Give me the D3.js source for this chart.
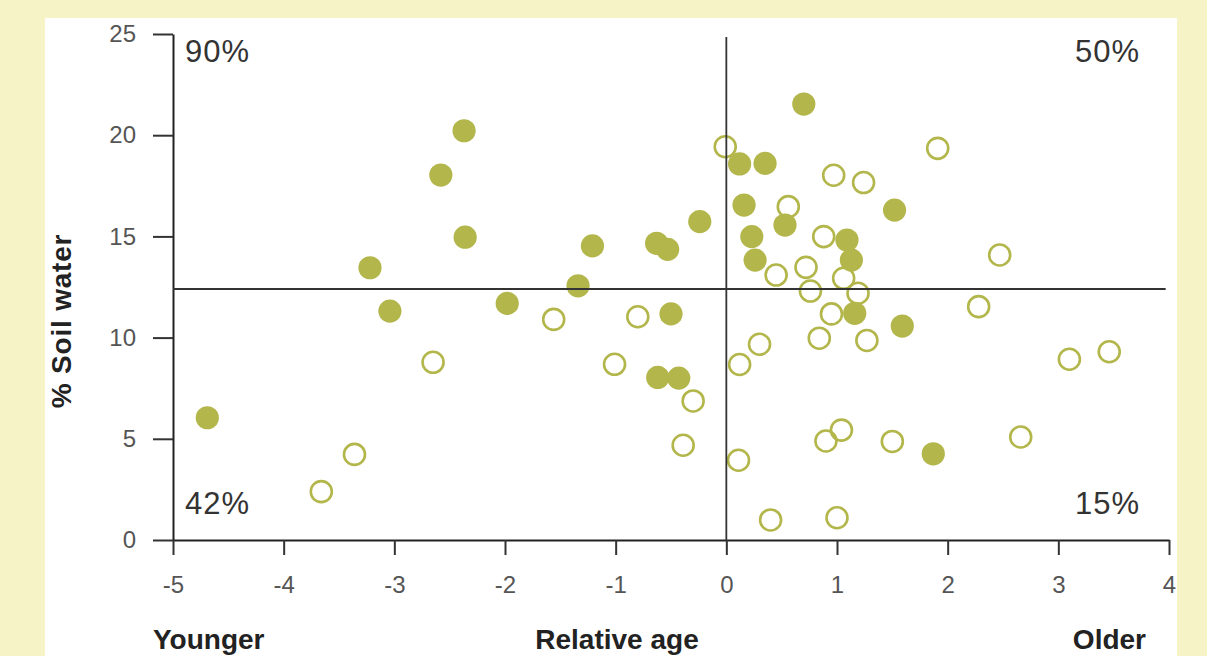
<!DOCTYPE html>
<html>
<head>
<meta charset="utf-8">
<script src="https://cdn.jsdelivr.net/npm/d3@7"></script>
<style>
  html, body { margin: 0; padding: 0; background: #f6f4c6; }
  svg { display: block; }
</style>
</head>
<body>
<svg id="chart" width="1207" height="656"></svg>
<script>
// ---- data ----
const ageFilled  = [-4.69,-3.22,-3.04,-2.58,-2.37,-2.36,-1.98,-1.34,-1.21,-0.63,-0.53,-0.24,-0.50,-0.62,-0.43,0.12,0.35,0.16,0.23,0.26,0.53,0.70,1.09,1.13,1.16,1.52,1.59,1.87];
const soilFilled = [6.04,13.45,11.31,18.03,20.22,14.96,11.69,12.56,14.53,14.66,14.36,15.73,11.17,8.03,8.00,18.58,18.61,16.55,14.99,13.83,15.56,21.54,14.82,13.83,11.20,16.30,10.57,4.26];
const ageOpen  = [-3.66,-3.36,-2.65,-1.56,-0.80,-1.01,-0.30,-0.39,-0.01,0.11,0.12,0.30,0.40,0.45,0.56,0.72,0.76,0.84,0.88,0.90,0.95,0.97,1.00,1.04,1.06,1.19,1.24,1.27,1.50,1.91,2.28,2.47,2.66,3.10,3.46];
const soilOpen = [2.39,4.23,8.78,10.90,11.03,8.68,6.87,4.68,19.43,3.94,8.67,9.67,0.99,13.09,16.47,13.47,12.30,9.97,14.99,4.89,11.17,18.02,1.10,5.43,12.93,12.19,17.66,9.86,4.87,19.35,11.53,14.08,5.09,8.93,9.30];
const xTicks = [-5,-4,-3,-2,-1,0,1,2,3,4];
const yTicks = [0,5,10,15,20,25];
const medianAge = 0;
const medianSoil = 12.4;
const quadrantLabels = ["90%", "50%", "42%", "15%"];
const xTitle = ["Younger", "Relative age", "Older"];
const yTitle = "% Soil water";

// ---- layout ----
const svg = d3.select("#chart");
const W = 1207, H = 656;
const green = "#b3b64a";

svg.append("rect").attr("width", W).attr("height", H).attr("fill", "#f6f4c6");
svg.append("rect").attr("x", 45).attr("y", 18).attr("width", 1132).attr("height", H - 18).attr("fill", "#ffffff");

const x = d3.scaleLinear().domain([-5, 4]).range([173, 1169]);
const y = d3.scaleLinear().domain([0, 25]).range([540, 34]);

// axes
const fmt = d => String(d);
const yAxis = d3.axisLeft(y).tickValues(yTicks).tickFormat(fmt).tickSize(20).tickSizeOuter(0).tickPadding(17);
const xAxis = d3.axisBottom(x).tickValues(xTicks).tickFormat(fmt).tickSize(15).tickSizeOuter(0).tickPadding(21);

const gy = svg.append("g").attr("transform", `translate(${x(-5)},0)`).call(yAxis);
const gx = svg.append("g").attr("transform", `translate(0,${y(0)})`).call(xAxis);
[gx, gy].forEach(g => {
  g.select(".domain").attr("stroke", "#222").attr("stroke-width", 2);
  g.selectAll(".tick line").attr("stroke", "#333").attr("stroke-width", 2);
  g.selectAll(".tick text").attr("fill", "#555").attr("font-family", "Liberation Sans, Arial, sans-serif").attr("font-size", 24);
});

// points: open first, filled on top
const openData = ageOpen.map((a, i) => ({ a, s: soilOpen[i] }));
const filledData = ageFilled.map((a, i) => ({ a, s: soilFilled[i] }));

svg.append("g").selectAll("circle").data(openData).join("circle")
  .attr("cx", d => x(d.a)).attr("cy", d => y(d.s)).attr("r", 10.5)
  .attr("fill", "none").attr("stroke", green).attr("stroke-width", 2.6);

svg.append("g").selectAll("circle").data(filledData).join("circle")
  .attr("cx", d => x(d.a)).attr("cy", d => y(d.s)).attr("r", 11.6)
  .attr("fill", green);

// crosshair
svg.append("line")
  .attr("x1", x(medianAge)).attr("x2", x(medianAge))
  .attr("y1", y(24.85)).attr("y2", y(0))
  .attr("stroke", "#333").attr("stroke-width", 1.8);
svg.append("line")
  .attr("x1", x(-5)).attr("x2", x(3.97))
  .attr("y1", y(medianSoil)).attr("y2", y(medianSoil))
  .attr("stroke", "#333").attr("stroke-width", 1.8);

// quadrant labels
const qFont = "Liberation Sans, Arial, sans-serif";
const q = svg.append("g").attr("font-family", qFont).attr("font-size", 31).attr("fill", "#333").attr("letter-spacing", 1);
q.append("text").attr("x", 185).attr("y", 62).text(quadrantLabels[0]);
q.append("text").attr("x", 1140).attr("y", 62).attr("text-anchor", "end").text(quadrantLabels[1]);
q.append("text").attr("x", 185).attr("y", 514).text(quadrantLabels[2]);
q.append("text").attr("x", 1140).attr("y", 514).attr("text-anchor", "end").text(quadrantLabels[3]);

// axis titles
const t = svg.append("g").attr("font-family", qFont).attr("font-weight", "bold").attr("font-size", 28).attr("fill", "#222");
t.append("text").attr("x", 153).attr("y", 649).text(xTitle[0]);
t.append("text").attr("x", 617).attr("y", 649).attr("text-anchor", "middle").text(xTitle[1]);
t.append("text").attr("x", 1146).attr("y", 649).attr("text-anchor", "end").text(xTitle[2]);
t.append("text").attr("transform", "translate(71,321) rotate(-90)").attr("text-anchor", "middle").attr("letter-spacing", 0.8).text(yTitle);
</script>
</body>
</html>
